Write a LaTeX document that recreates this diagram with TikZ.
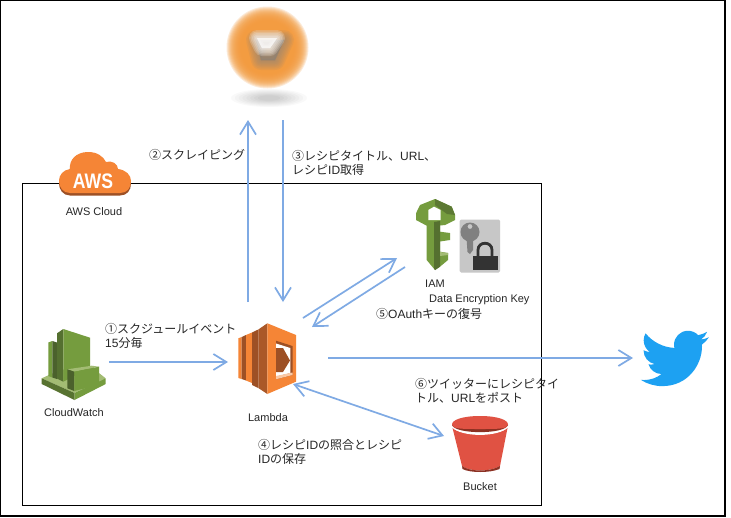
\documentclass[tikz,border=0pt]{standalone}
\usepackage{fontspec}
\setmainfont{Liberation Sans}
\newfontfamily\cjk{Noto Sans CJK JP}
\usetikzlibrary{arrows.meta,svg.path}
\definecolor{flow}{HTML}{7FAAE4}
\definecolor{awso}{HTML}{F58536}
\definecolor{awsd}{HTML}{9D5025}
\definecolor{gnm}{HTML}{759C3E}
\definecolor{gnd}{HTML}{4B612C}
\definecolor{gnl}{HTML}{A3BC74}
\definecolor{redm}{HTML}{E05243}
\definecolor{redd}{HTML}{8C3123}
\definecolor{tw}{HTML}{1DA1F2}
\definecolor{logoor}{HTML}{F39A3C}
\tikzset{
  barb/.tip={Straight Barb[length=13pt,width=16pt,line width=1.7pt]},
  flowline/.style={draw=flow,line width=1.7pt,-barb},
  flowboth/.style={draw=flow,line width=1.7pt,barb-barb},
  iconlabel/.style={inner sep=0pt,font=\fontsize{11}{12}\selectfont,text=black!85},
  steplabel/.style={inner sep=0pt,anchor=west,align=left,font=\fontsize{12}{14}\selectfont,text=black!85},
  frameline/.style={draw=black,line width=1pt}
}
\begin{document}
\begin{tikzpicture}[x=1pt,y=-1pt]
\useasboundingbox (0,0) rectangle (731,517);
\fill[white] (0,0) rectangle (731,517);
\draw[frameline,line width=1.2pt] (0.5,516) -- (0.5,0.5) -- (725,0.5) -- (725,516) -- cycle;
\draw[frameline] (22,183) rectangle (541,505);

% blurred logo
\foreach \r in {41,40,...,27}{
  \fill[logoor,opacity=.2] (267.5,47.5) circle (\r);}
\foreach \w in {20,17,14,11,8,5,2}{
  \fill[black!50,opacity=.11,draw=black!50,line width=\w pt,line join=round]
    (256,40) -- (284,40) -- (275,60) -- (261,60) -- cycle;}
\foreach \w in {16,13,10,7,4,1}{
  \fill[white,opacity=.2,draw=white,line width=\w pt,line join=round]
    (257,38) -- (277,38) -- (270,48) -- (262,48) -- cycle;}
\foreach \f in {1,.9,...,.2}{
  \fill[black,opacity=.022] (269,98) ellipse ({38*\f} and {9*\f});}

% AWS cloud
\foreach \c/\dy in {awsd/2.5,awso/0}{
  \fill[\c,shift={(0,\dy)}] (70,193) .. controls (63,193) and (59,187) .. (59,181)
    .. controls (59,175) and (63,170) .. (70,169)
    .. controls (69,160) and (76,152) .. (88,152)
    .. controls (97,152) and (103,156) .. (106,162)
    .. controls (112,160) and (118,164) .. (118,169)
    .. controls (126,170) and (131,175) .. (131,181)
    .. controls (131,188) and (127,193) .. (120,193) -- cycle;}
\node[inner sep=0pt,text=white,font=\fontsize{21}{22}\bfseries\selectfont,xscale=.84] (awslogo) at (93,181) {AWS};
\node[iconlabel] (awslabel) at (94,212) {AWS Cloud};

% CloudWatch
\fill[gnl] (41.7,378.3) -- (60,370) -- (90,366) -- (105.7,378.3) -- (74.5,393) -- cycle;
\fill[gnd!70!gnm] (41.7,378.3) -- (74.5,393) -- (74.5,400) -- (41.7,384) -- cycle;
\fill[gnm] (105.7,378.3) -- (74.5,393) -- (74.5,400) -- (105.7,384) -- cycle;
\fill[gnm] (48.3,342.5) -- (52.3,341) -- (52.3,377.5) -- (48.3,376) -- cycle;
\fill[gnd] (52.3,341) -- (57,342.5) -- (57,379) -- (52.3,377.5) -- cycle;
\fill[gnd!75!gnm] (57,333.3) -- (63.3,329) -- (63.3,381.7) -- (57,378.5) -- cycle;
\fill[gnm] (63.3,329) -- (90,337.7) -- (90,368) -- (63.3,381.7) -- cycle;
\fill[gnl] (67.3,369.3) -- (91.7,365.7) -- (99,366.7) -- (74.3,371.7) -- cycle;
\fill[gnd] (67.3,369.3) -- (74.3,371.7) -- (74.3,391) -- (67.3,388.3) -- cycle;
\fill[gnm] (74.3,371.7) -- (99,366.7) -- (99,385) -- (74.3,391) -- cycle;
\node[iconlabel] (cwlabel) at (74,413) {CloudWatch};

% Lambda
\fill[awso] (238.3,338.3) -- (241.7,337) -- (241.7,379) -- (238.3,378) -- cycle;
\fill[awsd] (241.7,337) -- (246,335) -- (246,380.5) -- (241.7,379) -- cycle;
\fill[awso] (246,335) -- (252,332.5) -- (252,383) -- (246,380.5) -- cycle;
\fill[awsd] (252,332.5) -- (258.3,329.5) -- (258.3,388) -- (252,385) -- (252,383) -- cycle;
\fill[awsd!85!awso] (258.3,329.5) -- (267.3,323.3) -- (267.3,394) -- (258.3,388) -- cycle;
\fill[awso] (267.3,323.3) -- (296,335) -- (296,381.7) -- (267.3,394) -- cycle;
\fill[awsd] (276,340.7) -- (292.5,346) -- (292.5,375) -- (276,379.3) -- cycle;
\fill[white] (276,343.5) -- (290.3,348) -- (290.3,373) -- (276,376.5) -- cycle;
\fill[awso!45!white] (276,379.3) -- (292.5,375) -- (292.5,372.5) -- (276,376) -- cycle;
\fill[awsd] (276,348) -- (283,348) -- (290,360.5) -- (283,372) -- (276,372) -- cycle;
\node[iconlabel] (lambdalabel) at (268,418) {Lambda};

% IAM key
\fill[gnm] (435,199) -- (451.7,206.7) -- (455,215) -- (455,220) -- (445,225) -- (440,225.5)
  -- (440,231.7) -- (450,233) -- (450,240) -- (440,241.5) -- (440,251.7) -- (448,253) -- (448,260)
  -- (440,266.7) -- (435,270) -- (426.7,260) -- (426.7,225.7) -- (416,220) -- (416,213.3) -- (420,205) -- cycle;
\fill[gnd!75!gnm] (434,222) -- (440,221) -- (440,266.7) -- (435,270) -- (434,268.5) -- cycle;
\fill[gnd!60!gnm] (435,199) -- (451.7,206.7) -- (455,215) -- (447,214) -- (435,205) -- cycle;
\fill[gnl] (440,252) -- (448,253) -- (448,255) -- (440,256) -- cycle;
\fill[white] (428.3,210) -- (434,206.7) -- (440.7,210) -- (440.7,220) -- (428.3,220) -- cycle;
\node[iconlabel] (iamlabel) at (435,284) {IAM};

% data key tile
\fill[black!22,rounded corners=1.5pt] (459.5,219.5) rectangle (500,272.5);
\fill[black!50,even odd rule] (470,232) circle (9.5) (470,226.5) circle (2.5);
\fill[black!50] (466.5,238) -- (473,238) -- (473,250) -- (470,254) -- (467.5,252) -- cycle;
\draw[black!80,line width=2.8pt] (478,257) -- (478,250) .. controls (478,241) and (492,241) .. (492,250) -- (492,257);
\fill[black!80] (472.5,256) rectangle (497.5,269.5);
\node[iconlabel,anchor=west] (keylabel) at (429,300) {Data Encryption Key};

% Bucket
\fill[redm] (452.5,428) .. controls (460,436) and (500,436) .. (507.5,428) -- (500,466) .. controls (490,472) and (470,472) .. (462,466) -- cycle;
\fill[redd] (462,466) .. controls (470,472) and (490,472) .. (500,466) -- (499.5,469) .. controls (490,473) and (470,473) .. (462.5,469) -- cycle;
\fill[white] (452.3,427) .. controls (460,437.5) and (500,437.5) .. (507.7,427) -- cycle;
\fill[redd] (452,425) .. controls (455,434.5) and (505,434.5) .. (508,425) -- cycle;
\fill[redm] (480,416) .. controls (498,416) and (508,420) .. (508,424.5) .. controls (508,429) and (498,429) .. (480,429) .. controls (462,429) and (452,429) .. (452,424.5) .. controls (452,420) and (462,416) .. (480,416) -- cycle;
\node[iconlabel] (bucketlabel) at (480,487) {Bucket};

% Twitter
\begin{scope}[shift={(638,322.5)},xscale=3,yscale=-3]
\fill[tw] svg {M 23.643 4.937 c -0.835 0.37 -1.732 0.62 -2.675 0.733 c 0.962 -0.576 1.7 -1.49 2.048 -2.578 c -0.9 0.534 -1.897 0.922 -2.958 1.13 c -0.85 -0.904 -2.06 -1.47 -3.4 -1.47 c -2.572 0 -4.658 2.086 -4.658 4.66 c 0 0.364 0.042 0.718 0.12 1.06 c -3.873 -0.195 -7.304 -2.05 -9.602 -4.868 c -0.4 0.69 -0.63 1.49 -0.63 2.342 c 0 1.616 0.823 3.043 2.072 3.878 c -0.764 -0.025 -1.482 -0.234 -2.11 -0.583 v 0.06 c 0 2.257 1.605 4.14 3.737 4.568 c -0.392 0.106 -0.803 0.162 -1.227 0.162 c -0.3 0 -0.593 -0.028 -0.877 -0.082 c 0.593 1.85 2.313 3.198 4.352 3.234 c -1.595 1.25 -3.604 1.995 -5.786 1.995 c -0.376 0 -0.747 -0.022 -1.112 -0.065 c 2.062 1.323 4.51 2.093 7.14 2.093 c 8.57 0 13.255 -7.098 13.255 -13.254 c 0 -0.2 -0.005 -0.402 -0.014 -0.602 c 0.91 -0.658 1.7 -1.477 2.323 -2.41 z};
\end{scope}

% step labels
\node[steplabel] (s1) at (105,336) {{\cjk ①スクジュールイベント}\\15{\cjk 分毎}};
\node[steplabel] (s2) at (149,155) {{\cjk ②スクレイピング}};
\node[steplabel] (s3) at (292,162.5) {{\cjk ③レシピタイトル、}URL{\cjk 、}\\{\cjk レシピ}ID{\cjk 取得}};
\node[steplabel] (s4) at (258,452) {{\cjk ④レシピ}ID{\cjk の照合とレシピ}\\ID{\cjk の保存}};
\node[steplabel] (s5) at (376,314) {{\cjk ⑤}OAuth{\cjk キーの復号}};
\node[steplabel] (s6) at (415,391) {{\cjk ⑥ツイッターにレシピタイ}\\{\cjk トル、}URL{\cjk をポスト}};

% connector ends
\coordinate (cwE) at (109,362);
\coordinate (lamW) at (228,362);
\coordinate (lamUp) at (248,302);
\coordinate (logoUp) at (248,120);
\coordinate (logoDn) at (283,120);
\coordinate (lamDn) at (283,302);
\coordinate (lamSE) at (293,384);
\coordinate (bktW) at (444,436);
\coordinate (lamNE) at (303,318);
\coordinate (iamW) at (397,258);
\coordinate (iamW2) at (405,267);
\coordinate (lamNE2) at (312,327);
\coordinate (lamE) at (328,358);
\coordinate (twW) at (633,358);
\draw[flowline] (cwE) -- (lamW);
\draw[flowline] (lamUp) -- (logoUp);
\draw[flowline] (logoDn) -- (lamDn);
\draw[flowboth] (lamSE) -- (bktW);
\draw[flowline] (lamNE) -- (iamW);
\draw[flowline] (iamW2) -- (lamNE2);
\draw[flowline] (lamE) -- (twW);
\end{tikzpicture}
\end{document}
